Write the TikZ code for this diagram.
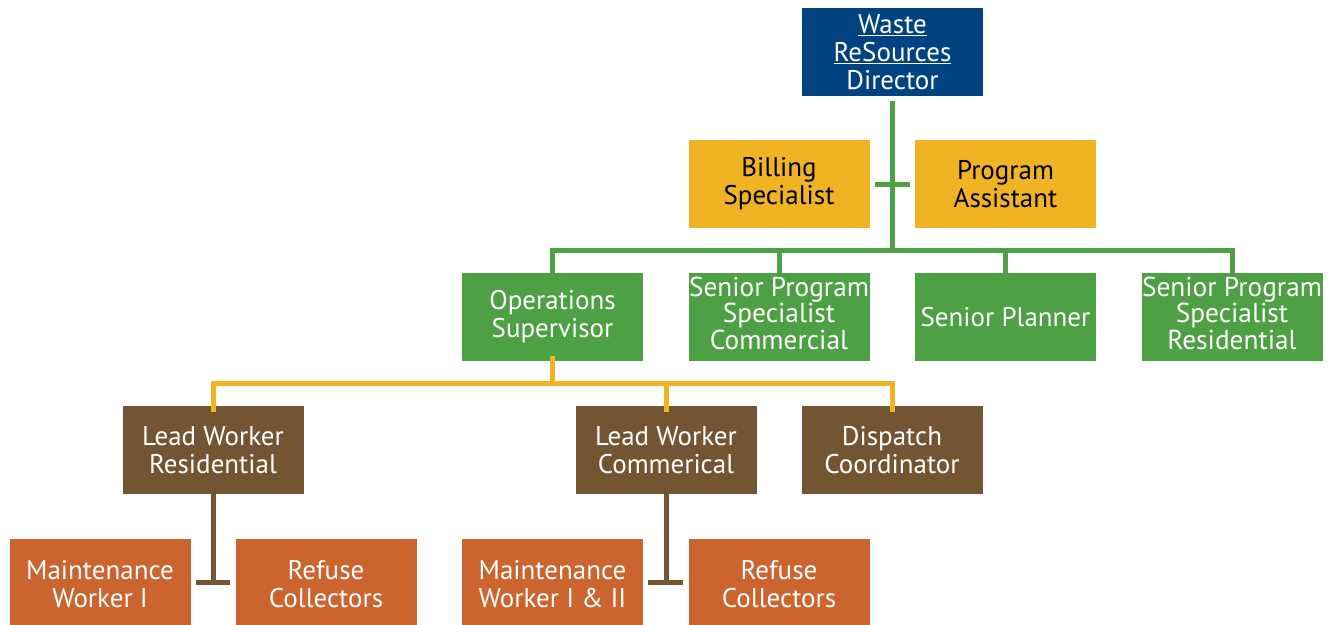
\documentclass[tikz,border=0pt]{standalone}
\usepackage{fontspec}
\setmainfont{PT Sans}
\usepackage{xcolor}
\definecolor{cblue}{RGB}{1,67,128}
\definecolor{cyel}{RGB}{240,179,35}
\definecolor{cgreen}{RGB}{78,160,68}
\definecolor{cbrown}{RGB}{115,85,52}
\definecolor{corange}{RGB}{204,100,48}
\begin{document}
\begin{tikzpicture}[x=1pt,y=-1pt,
  box/.style={draw=none,minimum width=181pt,minimum height=88pt,inner sep=0pt,align=center,
     font=\fontsize{27}{28}\selectfont},
  bluebox/.style={box,fill=cblue,text=white},
  yelbox/.style={box,fill=cyel,text=black},
  grnbox/.style={box,fill=cgreen,text=white},
  brnbox/.style={box,fill=cbrown,text=white},
  orgbox/.style={box,fill=corange,text=white},
  gline/.style={draw=cgreen,line width=5pt},
  yline/.style={draw=cyel,line width=5pt},
  bline/.style={draw=cbrown,line width=5pt}]
\useasboundingbox (0,0) rectangle (1335,624);
% boxes
\node[bluebox] (dir) at (892.5,52) {\underline{Waste}\\\underline{ReSources}\\Director};
\node[yelbox] (bill) at (779,184) {Billing\\Specialist};
\node[yelbox] (prog) at (1005.5,184) {Program\\Assistant};
\node[grnbox] (ops) at (552.5,317) {Operations\\Supervisor};
\node[grnbox] (spc) at (779,317) {\resizebox{180pt}{!}{\begin{tabular}{@{}c@{}}Senior Program\\[-2pt]Specialist\\[-2pt]Commercial\end{tabular}}};
\node[grnbox] (sp) at (1005.5,317) {Senior Planner};
\node[grnbox] (spr) at (1232,317) {\resizebox{180pt}{!}{\begin{tabular}{@{}c@{}}Senior Program\\[-2pt]Specialist\\[-2pt]Residential\end{tabular}}};
\node[brnbox] (lwr) at (213,450) {Lead Worker\\Residential};
\node[brnbox] (lwc) at (666,450) {Lead Worker\\Commerical};
\node[brnbox] (dc) at (892,450) {Dispatch\\Coordinator};
\node[orgbox,minimum height=90pt] (mw1) at (100,584) {Maintenance\\Worker I};
\node[orgbox,minimum height=90pt] (rc1) at (326,584) {Refuse\\Collectors};
\node[orgbox,minimum height=90pt] (mw2) at (552.5,584) {Maintenance\\Worker I \& II};
\node[orgbox,minimum height=90pt] (rc2) at (779,584) {Refuse\\Collectors};
% green connectors
\coordinate (gbar) at (892.5,250);
\draw[gline] ([yshift=-5pt]dir.south) -- (gbar);
\draw[gline,shorten <=5pt,shorten >=5pt] (bill.east) -- (prog.west);
\draw[gline] ([yshift=-4pt]ops.north) -- (ops.north |- gbar) -- (spr.north |- gbar) -- ([yshift=-4pt]spr.north);
\draw[gline] ([yshift=-4pt]spc.north) -- (spc.north |- gbar);
\draw[gline] ([yshift=-4pt]sp.north) -- (sp.north |- gbar);
% yellow connectors
\coordinate (ybar) at (552.5,383);
\draw[yline] ([yshift=5pt]ops.south) -- (ybar);
\draw[yline] ([yshift=-6pt]lwr.north) -- (lwr.north |- ybar) -- (dc.north |- ybar) -- ([yshift=-6pt]dc.north);
\draw[yline] ([yshift=-6pt]lwc.north) -- (lwc.north |- ybar);
% brown connectors
\coordinate (c1) at (213,582);
\coordinate (c2) at (666,582);
\draw[bline] ([yshift=5pt]lwr.south) -- (c1);
\draw[bline,shorten <=5pt,shorten >=5pt] (mw1.east |- c1) -- (rc1.west |- c1);
\draw[bline] ([yshift=5pt]lwc.south) -- (c2);
\draw[bline,shorten <=5pt,shorten >=5pt] (mw2.east |- c2) -- (rc2.west |- c2);
\end{tikzpicture}
\end{document}
